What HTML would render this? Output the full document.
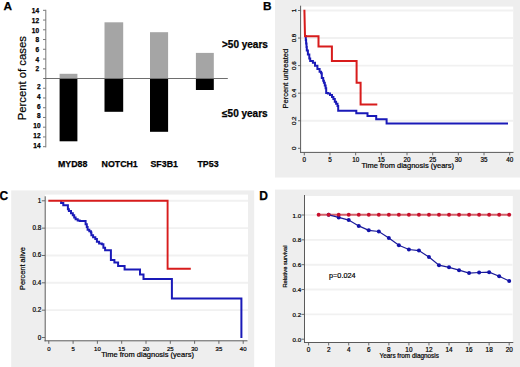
<!DOCTYPE html>
<html><head><meta charset="utf-8"><style>
html,body{margin:0;padding:0;background:#fff;width:520px;height:367px;overflow:hidden}
svg{display:block}
text{font-family:"Liberation Sans", sans-serif;fill:#000;stroke:#000;stroke-width:0.2px}
.hv{stroke:#000;stroke-width:0.25px}
</style></head><body>
<svg width="520" height="367" viewBox="0 0 520 367">
<text x="3.4" y="10.3" font-size="11.8" font-weight="bold" class="hv">A</text>
<line x1="45.8" y1="9.8" x2="45.8" y2="147.4" stroke="#7a7a7a" stroke-width="1"/>
<line x1="43" y1="68.76" x2="45.8" y2="68.76" stroke="#7a7a7a" stroke-width="1"/>
<text x="39.0" y="71.46" font-size="6.5" font-weight="bold" text-anchor="end" class="hv">2</text>
<line x1="43" y1="88.24" x2="45.8" y2="88.24" stroke="#7a7a7a" stroke-width="1"/>
<text x="40.5" y="89.24" font-size="6.5" font-weight="bold" text-anchor="end" class="hv">2</text>
<line x1="43" y1="59.02" x2="45.8" y2="59.02" stroke="#7a7a7a" stroke-width="1"/>
<text x="39.0" y="61.72" font-size="6.5" font-weight="bold" text-anchor="end" class="hv">4</text>
<line x1="43" y1="97.98" x2="45.8" y2="97.98" stroke="#7a7a7a" stroke-width="1"/>
<text x="40.5" y="98.98" font-size="6.5" font-weight="bold" text-anchor="end" class="hv">4</text>
<line x1="43" y1="49.28" x2="45.8" y2="49.28" stroke="#7a7a7a" stroke-width="1"/>
<text x="39.0" y="51.98" font-size="6.5" font-weight="bold" text-anchor="end" class="hv">6</text>
<line x1="43" y1="107.72" x2="45.8" y2="107.72" stroke="#7a7a7a" stroke-width="1"/>
<text x="40.5" y="108.72" font-size="6.5" font-weight="bold" text-anchor="end" class="hv">6</text>
<line x1="43" y1="39.54" x2="45.8" y2="39.54" stroke="#7a7a7a" stroke-width="1"/>
<text x="39.0" y="42.24" font-size="6.5" font-weight="bold" text-anchor="end" class="hv">8</text>
<line x1="43" y1="117.46" x2="45.8" y2="117.46" stroke="#7a7a7a" stroke-width="1"/>
<text x="40.5" y="118.46" font-size="6.5" font-weight="bold" text-anchor="end" class="hv">8</text>
<line x1="43" y1="29.80" x2="45.8" y2="29.80" stroke="#7a7a7a" stroke-width="1"/>
<text x="39.0" y="32.50" font-size="6.5" font-weight="bold" text-anchor="end" class="hv">10</text>
<line x1="43" y1="127.20" x2="45.8" y2="127.20" stroke="#7a7a7a" stroke-width="1"/>
<text x="40.5" y="128.20" font-size="6.5" font-weight="bold" text-anchor="end" class="hv">10</text>
<line x1="43" y1="20.06" x2="45.8" y2="20.06" stroke="#7a7a7a" stroke-width="1"/>
<text x="39.0" y="22.76" font-size="6.5" font-weight="bold" text-anchor="end" class="hv">12</text>
<line x1="43" y1="136.94" x2="45.8" y2="136.94" stroke="#7a7a7a" stroke-width="1"/>
<text x="40.5" y="137.94" font-size="6.5" font-weight="bold" text-anchor="end" class="hv">12</text>
<line x1="43" y1="10.32" x2="45.8" y2="10.32" stroke="#7a7a7a" stroke-width="1"/>
<text x="39.0" y="13.02" font-size="6.5" font-weight="bold" text-anchor="end" class="hv">14</text>
<line x1="43" y1="146.68" x2="45.8" y2="146.68" stroke="#7a7a7a" stroke-width="1"/>
<text x="40.5" y="147.68" font-size="6.5" font-weight="bold" text-anchor="end" class="hv">14</text>
<rect x="59.6" y="73.8" width="17.80" height="4.70" fill="#a5a5a5"/>
<rect x="59.6" y="78.5" width="17.80" height="62.80" fill="#000"/>
<rect x="104.5" y="22.3" width="18.70" height="56.20" fill="#a5a5a5"/>
<rect x="104.5" y="78.5" width="18.70" height="33.30" fill="#000"/>
<rect x="150.0" y="32.2" width="18.10" height="46.30" fill="#a5a5a5"/>
<rect x="150.0" y="78.5" width="18.10" height="53.30" fill="#000"/>
<rect x="195.9" y="52.9" width="17.90" height="25.60" fill="#a5a5a5"/>
<rect x="195.9" y="78.5" width="17.90" height="11.50" fill="#000"/>
<line x1="43.2" y1="78.5" x2="227.8" y2="78.5" stroke="#6e6e6e" stroke-width="1.1"/>
<text x="58.0" y="166.7" font-size="8.8" font-weight="bold" class="hv">MYD88</text>
<text x="101.6" y="166.7" font-size="8.8" font-weight="bold" class="hv">NOTCH1</text>
<text x="150.5" y="166.7" font-size="8.8" font-weight="bold" class="hv">SF3B1</text>
<text x="197.5" y="166.7" font-size="8.8" font-weight="bold" class="hv">TP53</text>
<text x="222.0" y="47.8" font-size="10" font-weight="bold" class="hv">&gt;50 years</text>
<text x="222.1" y="116.6" font-size="10" font-weight="bold" class="hv">≤50 years</text>
<text transform="translate(25.8,78.2) rotate(-90)" font-size="11.3" text-anchor="middle">Percent of cases</text>
<text x="263" y="10.4" font-size="11.8" font-weight="bold" class="hv">B</text>
<rect x="275" y="0" width="245" height="177.5" fill="#eeeeee"/>
<rect x="300.5" y="6.6" width="212.7" height="145.6" fill="#fff"/>
<line x1="301" y1="120.74" x2="513" y2="120.74" stroke="#f1f1f1" stroke-width="1.9"/>
<line x1="301" y1="93.18" x2="513" y2="93.18" stroke="#f1f1f1" stroke-width="1.9"/>
<line x1="301" y1="65.62" x2="513" y2="65.62" stroke="#f1f1f1" stroke-width="1.9"/>
<line x1="301" y1="38.06" x2="513" y2="38.06" stroke="#f1f1f1" stroke-width="1.9"/>
<line x1="301" y1="10.50" x2="513" y2="10.50" stroke="#f1f1f1" stroke-width="1.9"/>
<line x1="300.6" y1="5.7" x2="300.6" y2="152.8" stroke="#5a5a5a" stroke-width="1"/>
<line x1="300.2" y1="152.4" x2="513.5" y2="152.4" stroke="#5a5a5a" stroke-width="1"/>
<line x1="298" y1="148.30" x2="300.7" y2="148.30" stroke="#5a5a5a" stroke-width="0.9"/>
<text transform="translate(296.1,148.30) rotate(-90)" font-size="6.2" text-anchor="middle">0</text>
<line x1="298" y1="120.74" x2="300.7" y2="120.74" stroke="#5a5a5a" stroke-width="0.9"/>
<text transform="translate(296.1,120.74) rotate(-90)" font-size="6.2" text-anchor="middle">0.2</text>
<line x1="298" y1="93.18" x2="300.7" y2="93.18" stroke="#5a5a5a" stroke-width="0.9"/>
<text transform="translate(296.1,93.18) rotate(-90)" font-size="6.2" text-anchor="middle">0.4</text>
<line x1="298" y1="65.62" x2="300.7" y2="65.62" stroke="#5a5a5a" stroke-width="0.9"/>
<text transform="translate(296.1,65.62) rotate(-90)" font-size="6.2" text-anchor="middle">0.6</text>
<line x1="298" y1="38.06" x2="300.7" y2="38.06" stroke="#5a5a5a" stroke-width="0.9"/>
<text transform="translate(296.1,38.06) rotate(-90)" font-size="6.2" text-anchor="middle">0.8</text>
<line x1="298" y1="10.50" x2="300.7" y2="10.50" stroke="#5a5a5a" stroke-width="0.9"/>
<text transform="translate(296.1,10.50) rotate(-90)" font-size="6.2" text-anchor="middle">1</text>
<line x1="304.30" y1="152.3" x2="304.30" y2="155.3" stroke="#5a5a5a" stroke-width="0.9"/>
<text x="304.30" y="161.7" font-size="6.3" text-anchor="middle">0</text>
<line x1="329.98" y1="152.3" x2="329.98" y2="155.3" stroke="#5a5a5a" stroke-width="0.9"/>
<text x="329.98" y="161.7" font-size="6.3" text-anchor="middle">5</text>
<line x1="355.65" y1="152.3" x2="355.65" y2="155.3" stroke="#5a5a5a" stroke-width="0.9"/>
<text x="355.65" y="161.7" font-size="6.3" text-anchor="middle">10</text>
<line x1="381.32" y1="152.3" x2="381.32" y2="155.3" stroke="#5a5a5a" stroke-width="0.9"/>
<text x="381.32" y="161.7" font-size="6.3" text-anchor="middle">15</text>
<line x1="407.00" y1="152.3" x2="407.00" y2="155.3" stroke="#5a5a5a" stroke-width="0.9"/>
<text x="407.00" y="161.7" font-size="6.3" text-anchor="middle">20</text>
<line x1="432.68" y1="152.3" x2="432.68" y2="155.3" stroke="#5a5a5a" stroke-width="0.9"/>
<text x="432.68" y="161.7" font-size="6.3" text-anchor="middle">25</text>
<line x1="458.35" y1="152.3" x2="458.35" y2="155.3" stroke="#5a5a5a" stroke-width="0.9"/>
<text x="458.35" y="161.7" font-size="6.3" text-anchor="middle">30</text>
<line x1="484.02" y1="152.3" x2="484.02" y2="155.3" stroke="#5a5a5a" stroke-width="0.9"/>
<text x="484.02" y="161.7" font-size="6.3" text-anchor="middle">35</text>
<line x1="509.70" y1="152.3" x2="509.70" y2="155.3" stroke="#5a5a5a" stroke-width="0.9"/>
<text x="509.70" y="161.7" font-size="6.3" text-anchor="middle">40</text>
<text x="407.8" y="168.3" font-size="7.5" text-anchor="middle">Time from diagnosis (years)</text>
<text transform="translate(288.3,78.7) rotate(-90)" font-size="7.5" text-anchor="middle">Percent untreated</text>
<polyline points="305.4,36.1 305.8,36.1 305.8,40.0 306.1,40.0 306.1,43.6 306.5,43.6 306.5,47.0 306.8,47.0 306.8,50.4 307.9,50.4 307.9,54.5 309.3,54.5 309.3,58.6 310.2,58.6 310.2,61.1 312.9,61.1 312.9,62.7 315,62.7 315,65.7 317.4,65.7 317.4,68.9 319.6,68.9 319.6,71.7 321.1,71.7 321.1,73.2 321.8,73.2 321.8,77.9 323.2,77.9 323.2,80.7 323.9,80.7 323.9,82.7 324.8,82.7 324.8,85.4 325.6,85.4 325.6,88.2 326.2,88.2 326.2,92.9 327.9,92.9 327.9,93.6 330,93.6 330,95 332,95 332,97 333.4,97 333.4,99.1 334.8,99.1 334.8,101.8 336.1,101.8 336.1,103.8 337.5,103.8 337.5,105.9 338.2,105.9 338.2,110.7 356.3,110.7 356.3,113.2 367.5,113.2 367.5,116.1 376.2,116.1 376.2,119.2 386.6,119.2 386.6,123.4 508,123.4 508,123.4" fill="none" stroke="#1a1ab8" stroke-width="2" stroke-linejoin="miter"/>
<polyline points="304.4,9.8 305,36.3 318.5,36.3 318.5,46.6 331.9,46.6 331.9,61.0 356.6,61.0 356.6,82.7 360.6,82.7 360.6,104.6 377.3,104.6" fill="none" stroke="#d81c1c" stroke-width="2" stroke-linejoin="miter"/>
<text x="-0.6" y="199.8" font-size="12" font-weight="bold" class="hv">C</text>
<rect x="11.2" y="190.4" width="243" height="176.6" fill="#eeeeee"/>
<rect x="45" y="194.6" width="203" height="146.2" fill="#fff"/>
<line x1="45" y1="310.16" x2="248" y2="310.16" stroke="#f1f1f1" stroke-width="1.9"/>
<line x1="45" y1="282.82" x2="248" y2="282.82" stroke="#f1f1f1" stroke-width="1.9"/>
<line x1="45" y1="255.48" x2="248" y2="255.48" stroke="#f1f1f1" stroke-width="1.9"/>
<line x1="45" y1="228.14" x2="248" y2="228.14" stroke="#f1f1f1" stroke-width="1.9"/>
<line x1="45" y1="200.80" x2="248" y2="200.80" stroke="#f1f1f1" stroke-width="1.9"/>
<line x1="45.2" y1="196.3" x2="45.2" y2="341.3" stroke="#5a5a5a" stroke-width="1"/>
<line x1="44.5" y1="340.8" x2="247.5" y2="340.8" stroke="#5a5a5a" stroke-width="1"/>
<line x1="41.8" y1="337.50" x2="45" y2="337.50" stroke="#5a5a5a" stroke-width="0.9"/>
<text x="41.3" y="339.50" font-size="6.3" text-anchor="end">0</text>
<line x1="41.8" y1="310.16" x2="45" y2="310.16" stroke="#5a5a5a" stroke-width="0.9"/>
<text x="41.3" y="312.16" font-size="6.3" text-anchor="end">0.2</text>
<line x1="41.8" y1="282.82" x2="45" y2="282.82" stroke="#5a5a5a" stroke-width="0.9"/>
<text x="41.3" y="284.82" font-size="6.3" text-anchor="end">0.4</text>
<line x1="41.8" y1="255.48" x2="45" y2="255.48" stroke="#5a5a5a" stroke-width="0.9"/>
<text x="41.3" y="257.48" font-size="6.3" text-anchor="end">0.6</text>
<line x1="41.8" y1="228.14" x2="45" y2="228.14" stroke="#5a5a5a" stroke-width="0.9"/>
<text x="41.3" y="230.14" font-size="6.3" text-anchor="end">0.8</text>
<line x1="41.8" y1="200.80" x2="45" y2="200.80" stroke="#5a5a5a" stroke-width="0.9"/>
<text x="41.3" y="202.80" font-size="6.3" text-anchor="end">1</text>
<line x1="48.80" y1="340.8" x2="48.80" y2="343.8" stroke="#5a5a5a" stroke-width="0.9"/>
<text x="48.80" y="350.5" font-size="6" text-anchor="middle">0</text>
<line x1="73.10" y1="340.8" x2="73.10" y2="343.8" stroke="#5a5a5a" stroke-width="0.9"/>
<text x="73.10" y="350.5" font-size="6" text-anchor="middle">5</text>
<line x1="97.40" y1="340.8" x2="97.40" y2="343.8" stroke="#5a5a5a" stroke-width="0.9"/>
<text x="97.40" y="350.5" font-size="6" text-anchor="middle">10</text>
<line x1="121.70" y1="340.8" x2="121.70" y2="343.8" stroke="#5a5a5a" stroke-width="0.9"/>
<text x="121.70" y="350.5" font-size="6" text-anchor="middle">15</text>
<line x1="146.00" y1="340.8" x2="146.00" y2="343.8" stroke="#5a5a5a" stroke-width="0.9"/>
<text x="146.00" y="350.5" font-size="6" text-anchor="middle">20</text>
<line x1="170.30" y1="340.8" x2="170.30" y2="343.8" stroke="#5a5a5a" stroke-width="0.9"/>
<text x="170.30" y="350.5" font-size="6" text-anchor="middle">25</text>
<line x1="194.60" y1="340.8" x2="194.60" y2="343.8" stroke="#5a5a5a" stroke-width="0.9"/>
<text x="194.60" y="350.5" font-size="6" text-anchor="middle">30</text>
<line x1="218.90" y1="340.8" x2="218.90" y2="343.8" stroke="#5a5a5a" stroke-width="0.9"/>
<text x="218.90" y="350.5" font-size="6" text-anchor="middle">35</text>
<line x1="243.20" y1="340.8" x2="243.20" y2="343.8" stroke="#5a5a5a" stroke-width="0.9"/>
<text x="243.20" y="350.5" font-size="6" text-anchor="middle">40</text>
<text x="147.6" y="357.2" font-size="7.5" text-anchor="middle">Time from diagnosis (years)</text>
<text transform="translate(25.3,268.6) rotate(-90)" font-size="7.4" text-anchor="middle">Percent alive</text>
<polyline points="60.2,201.3 61.1,201.3 61.1,203.0 63.3,203.0 63.3,205.3 67.9,205.3 67.9,209.3 68.9,209.3 68.9,211.1 71.0,211.1 71.0,213.2 72.8,213.2 72.8,215.2 74.2,215.2 74.2,217.4 75.6,217.4 75.6,219.3 77.7,219.3 77.7,220.4 79.7,220.4 79.7,221.1 85.6,221.1 85.6,224.2 86.8,224.2 86.8,227.0 87.6,227.0 87.6,229.7 89.3,229.7 89.3,231.3 90.9,231.3 90.9,232.4 91.4,232.4 91.4,235.2 93.1,235.2 93.1,237.3 95.3,237.3 95.3,239.0 96.9,239.0 96.9,241.7 99.1,241.7 99.1,243.6 101.8,243.6 101.8,244.2 103.4,244.2 103.4,247.7 105.1,247.7 105.1,250.3 110.9,250.3 110.9,260.1 114.4,260.1 114.4,262.6 118.1,262.6 118.1,265.9 124.6,265.9 124.6,269.5 140.0,269.5 140.0,274.5 143.5,274.5 143.5,279.1 171.9,279.1 171.9,298.6 241.4,298.6 241.4,338.0" fill="none" stroke="#1a1ab8" stroke-width="2" stroke-linejoin="miter"/>
<polyline points="48.3,200.8 167.6,200.8 167.6,268.7 190.8,268.7" fill="none" stroke="#d81c1c" stroke-width="1.9" stroke-linejoin="miter"/>
<text x="259.3" y="200" font-size="12" font-weight="bold" class="hv">D</text>
<rect x="275" y="189.6" width="245" height="177.4" fill="#eeeeee"/>
<rect x="304.5" y="196" width="208.3" height="146.4" fill="#fff"/>
<line x1="305" y1="314.36" x2="512.5" y2="314.36" stroke="#f1f1f1" stroke-width="1.9"/>
<line x1="305" y1="289.52" x2="512.5" y2="289.52" stroke="#f1f1f1" stroke-width="1.9"/>
<line x1="305" y1="264.68" x2="512.5" y2="264.68" stroke="#f1f1f1" stroke-width="1.9"/>
<line x1="305" y1="239.84" x2="512.5" y2="239.84" stroke="#f1f1f1" stroke-width="1.9"/>
<line x1="305" y1="215.00" x2="512.5" y2="215.00" stroke="#f1f1f1" stroke-width="1.9"/>
<line x1="304.5" y1="195" x2="304.5" y2="342.9" stroke="#5a5a5a" stroke-width="1"/>
<line x1="304" y1="342.5" x2="513.3" y2="342.5" stroke="#5a5a5a" stroke-width="1"/>
<line x1="301.5" y1="339.20" x2="304.5" y2="339.20" stroke="#5a5a5a" stroke-width="0.9"/>
<text x="301.2" y="341.80" font-size="6.2" text-anchor="end">0.0</text>
<line x1="301.5" y1="314.36" x2="304.5" y2="314.36" stroke="#5a5a5a" stroke-width="0.9"/>
<text x="301.2" y="316.96" font-size="6.2" text-anchor="end">0.2</text>
<line x1="301.5" y1="289.52" x2="304.5" y2="289.52" stroke="#5a5a5a" stroke-width="0.9"/>
<text x="301.2" y="292.12" font-size="6.2" text-anchor="end">0.4</text>
<line x1="301.5" y1="264.68" x2="304.5" y2="264.68" stroke="#5a5a5a" stroke-width="0.9"/>
<text x="301.2" y="267.28" font-size="6.2" text-anchor="end">0.6</text>
<line x1="301.5" y1="239.84" x2="304.5" y2="239.84" stroke="#5a5a5a" stroke-width="0.9"/>
<text x="301.2" y="242.44" font-size="6.2" text-anchor="end">0.8</text>
<line x1="301.5" y1="215.00" x2="304.5" y2="215.00" stroke="#5a5a5a" stroke-width="0.9"/>
<text x="301.2" y="217.60" font-size="6.2" text-anchor="end">1.0</text>
<line x1="308.60" y1="342.4" x2="308.60" y2="345.4" stroke="#5a5a5a" stroke-width="0.9"/>
<text x="308.60" y="351.9" font-size="6.4" text-anchor="middle">0</text>
<line x1="328.66" y1="342.4" x2="328.66" y2="345.4" stroke="#5a5a5a" stroke-width="0.9"/>
<text x="328.66" y="351.9" font-size="6.4" text-anchor="middle">2</text>
<line x1="348.72" y1="342.4" x2="348.72" y2="345.4" stroke="#5a5a5a" stroke-width="0.9"/>
<text x="348.72" y="351.9" font-size="6.4" text-anchor="middle">4</text>
<line x1="368.78" y1="342.4" x2="368.78" y2="345.4" stroke="#5a5a5a" stroke-width="0.9"/>
<text x="368.78" y="351.9" font-size="6.4" text-anchor="middle">6</text>
<line x1="388.84" y1="342.4" x2="388.84" y2="345.4" stroke="#5a5a5a" stroke-width="0.9"/>
<text x="388.84" y="351.9" font-size="6.4" text-anchor="middle">8</text>
<line x1="408.90" y1="342.4" x2="408.90" y2="345.4" stroke="#5a5a5a" stroke-width="0.9"/>
<text x="408.90" y="351.9" font-size="6.4" text-anchor="middle">10</text>
<line x1="428.96" y1="342.4" x2="428.96" y2="345.4" stroke="#5a5a5a" stroke-width="0.9"/>
<text x="428.96" y="351.9" font-size="6.4" text-anchor="middle">12</text>
<line x1="449.02" y1="342.4" x2="449.02" y2="345.4" stroke="#5a5a5a" stroke-width="0.9"/>
<text x="449.02" y="351.9" font-size="6.4" text-anchor="middle">14</text>
<line x1="469.08" y1="342.4" x2="469.08" y2="345.4" stroke="#5a5a5a" stroke-width="0.9"/>
<text x="469.08" y="351.9" font-size="6.4" text-anchor="middle">16</text>
<line x1="489.14" y1="342.4" x2="489.14" y2="345.4" stroke="#5a5a5a" stroke-width="0.9"/>
<text x="489.14" y="351.9" font-size="6.4" text-anchor="middle">18</text>
<line x1="509.20" y1="342.4" x2="509.20" y2="345.4" stroke="#5a5a5a" stroke-width="0.9"/>
<text x="509.20" y="351.9" font-size="6.4" text-anchor="middle">20</text>
<text x="409.2" y="358" font-size="6.4" text-anchor="middle">Years from diagnosis</text>
<text transform="translate(287.3,266.5) rotate(-90)" font-size="5.8" text-anchor="middle">Relative survival</text>
<text x="329" y="278.4" font-size="7.3">p=0.024</text>
<polyline points="318.63,214.8 328.66,214.8 338.69,214.8 348.72,214.8 358.75,214.8 368.78,214.8 378.81,214.8 388.84,214.8 398.87,214.8 408.90,214.8 418.93,214.8 428.96,214.8 438.99,214.8 449.02,214.8 459.05,214.8 469.08,214.8 479.11,214.8 489.14,214.8 499.17,214.8 509.20,214.8" fill="none" stroke="#d4606a" stroke-width="1.9"/>
<polyline points="328.66,214.8 338.69,217.4 348.72,220.1 358.75,225.9 368.78,230.3 378.81,231.5 388.84,238 398.87,245.2 408.90,249.5 418.93,250.6 428.96,257.1 438.99,265.2 449.02,267.3 459.05,270.2 469.08,273.1 479.11,272.5 489.14,272.2 499.17,276.3 509.20,281" fill="none" stroke="#1a1a9a" stroke-width="1.2"/>
<circle cx="328.66" cy="214.8" r="2.0" fill="#1212a8"/>
<circle cx="338.69" cy="217.4" r="2.0" fill="#1212a8"/>
<circle cx="348.72" cy="220.1" r="2.0" fill="#1212a8"/>
<circle cx="358.75" cy="225.9" r="2.0" fill="#1212a8"/>
<circle cx="368.78" cy="230.3" r="2.0" fill="#1212a8"/>
<circle cx="378.81" cy="231.5" r="2.0" fill="#1212a8"/>
<circle cx="388.84" cy="238" r="2.0" fill="#1212a8"/>
<circle cx="398.87" cy="245.2" r="2.0" fill="#1212a8"/>
<circle cx="408.90" cy="249.5" r="2.0" fill="#1212a8"/>
<circle cx="418.93" cy="250.6" r="2.0" fill="#1212a8"/>
<circle cx="428.96" cy="257.1" r="2.0" fill="#1212a8"/>
<circle cx="438.99" cy="265.2" r="2.0" fill="#1212a8"/>
<circle cx="449.02" cy="267.3" r="2.0" fill="#1212a8"/>
<circle cx="459.05" cy="270.2" r="2.0" fill="#1212a8"/>
<circle cx="469.08" cy="273.1" r="2.0" fill="#1212a8"/>
<circle cx="479.11" cy="272.5" r="2.0" fill="#1212a8"/>
<circle cx="489.14" cy="272.2" r="2.0" fill="#1212a8"/>
<circle cx="499.17" cy="276.3" r="2.0" fill="#1212a8"/>
<circle cx="509.20" cy="281" r="2.0" fill="#1212a8"/>
<circle cx="318.63" cy="214.8" r="1.95" fill="#c8102e"/>
<circle cx="328.66" cy="214.8" r="1.95" fill="#c8102e"/>
<circle cx="338.69" cy="214.8" r="1.95" fill="#c8102e"/>
<circle cx="348.72" cy="214.8" r="1.95" fill="#c8102e"/>
<circle cx="358.75" cy="214.8" r="1.95" fill="#c8102e"/>
<circle cx="368.78" cy="214.8" r="1.95" fill="#c8102e"/>
<circle cx="378.81" cy="214.8" r="1.95" fill="#c8102e"/>
<circle cx="388.84" cy="214.8" r="1.95" fill="#c8102e"/>
<circle cx="398.87" cy="214.8" r="1.95" fill="#c8102e"/>
<circle cx="408.90" cy="214.8" r="1.95" fill="#c8102e"/>
<circle cx="418.93" cy="214.8" r="1.95" fill="#c8102e"/>
<circle cx="428.96" cy="214.8" r="1.95" fill="#c8102e"/>
<circle cx="438.99" cy="214.8" r="1.95" fill="#c8102e"/>
<circle cx="449.02" cy="214.8" r="1.95" fill="#c8102e"/>
<circle cx="459.05" cy="214.8" r="1.95" fill="#c8102e"/>
<circle cx="469.08" cy="214.8" r="1.95" fill="#c8102e"/>
<circle cx="479.11" cy="214.8" r="1.95" fill="#c8102e"/>
<circle cx="489.14" cy="214.8" r="1.95" fill="#c8102e"/>
<circle cx="499.17" cy="214.8" r="1.95" fill="#c8102e"/>
<circle cx="509.20" cy="214.8" r="1.95" fill="#c8102e"/>
</svg>
</body></html>
